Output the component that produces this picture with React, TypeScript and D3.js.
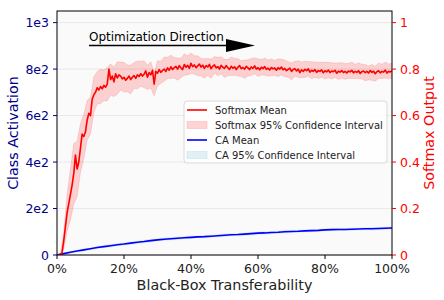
import { useRef, useEffect } from "react";
import * as d3 from "d3";

// softmax mean (class activation units), every 0.5% of transferability
const softmaxMean: number[] = [
    0, 0, 0, 10, 60, 120, 180, 220, 260, 300, 350, 430, 370, 400, 460, 520, 510, 530, 580, 610,
    600, 670, 690, 700, 720, 710, 725, 715, 730, 722, 735, 800, 755, 770, 745, 780, 762, 775, 770, 758,
    765, 752, 760, 770, 755, 765, 772, 760, 775, 768, 780, 770, 778, 792, 765, 785, 775, 795, 735, 790,
    782, 798, 786, 794, 800, 790, 805, 795, 810, 798, 806, 812, 800, 815, 805, 798, 820, 808, 816, 803,
    825, 810, 818, 806, 814, 822, 808, 817, 803, 815, 809, 820, 802, 812, 818, 805, 811, 800, 816, 808,
    803, 815, 806, 799, 812, 804, 810, 798, 808, 815, 802, 807, 800, 812, 805, 798, 809, 803, 814, 800,
    806, 797, 808, 802, 811, 799, 804, 796, 807, 801, 805, 795, 806, 800, 809, 797, 803, 793, 799, 804,
    790, 798, 802, 792, 800, 785, 797, 790, 799, 793, 801, 787, 795, 790, 798, 786, 794, 790, 797, 784,
    793, 788, 796, 785, 792, 789, 795, 782, 791, 787, 794, 785, 790, 783, 792, 788, 795, 784, 790, 786,
    793, 781, 789, 792, 785, 790, 783, 794, 786, 791, 780, 789, 793, 784, 790, 787, 796, 783, 790, 788,
    792,
];

// softmax 95% CI half-width, every 1%
const softmaxSpread: number[] = [
    3, 8, 35, 80, 110, 130, 120, 105, 95, 85,
    80, 76, 70, 74, 66, 72, 68, 63, 70, 60,
    64, 58, 62, 56, 60, 54, 58, 52, 57, 50,
    54, 48, 52, 46, 50, 44, 48, 42, 46, 41,
    44, 39, 43, 38, 42, 37, 41, 36, 40, 37,
    39, 35, 40, 36, 38, 34, 39, 35, 37, 34,
    38, 33, 37, 35, 36, 33, 38, 34, 36, 33,
    37, 32, 36, 34, 35, 32, 37, 33, 35, 32,
    36, 33, 35, 31, 36, 33, 34, 32, 35, 31,
    34, 32, 35, 30, 34, 32, 33, 31, 34, 32,
    33,
];

// CA mean, every 2%
const caMean: number[] = [
    0, 6, 12, 17, 22, 27, 32, 36, 40, 44,
    47, 51, 55, 58, 62, 65, 68, 70, 72, 74,
    76, 78, 79, 81, 83, 85, 87, 88, 90, 92,
    94, 95, 97, 98, 100, 101, 102, 104, 105, 106,
    108, 109, 110, 110, 111, 112, 113, 113, 114, 115,
    116,
];

// CA 95% CI half-width, every 2%
const caSpread: number[] = [
    1, 2, 3, 3, 4, 3, 4, 4, 5, 4,
    4, 5, 4, 5, 5, 4, 5, 4, 5, 4,
    5, 4, 5, 4, 4, 5, 4, 4, 5, 4,
    4, 5, 4, 4, 5, 4, 4, 4, 5, 4,
    4, 4, 5, 4, 4, 4, 4, 5, 4, 4,
    4,
];

const leftTicks = [0, 200, 400, 600, 800, 1000];
const leftTickLabels = ["0", "2e2", "4e2", "6e2", "8e2", "1e3"];
const rightTicks = [0, 0.2, 0.4, 0.6, 0.8, 1];
const rightTickLabels = ["0", "0.2", "0.4", "0.6", "0.8", "1"];
const xTicks = [0, 20, 40, 60, 80, 100];

const legendLabels = [
    "Softmax Mean",
    "Softmax 95% Confidence Interval",
    "CA Mean",
    "CA 95% Confidence Interval",
];

const App: React.FC = () => {
    const svgRef = useRef<SVGSVGElement | null>(null);

    useEffect(() => {
        if (!svgRef.current) return;
        document.body.style.margin = "0";

        const width = 444;
        const height = 300;
        const margin = { top: 11, right: 52, bottom: 45, left: 57 };
        const font = "DejaVu Sans, sans-serif";

        const x = d3.scaleLinear().domain([0, 100]).range([margin.left, width - margin.right]);
        const y = d3.scaleLinear().domain([0, 1050]).range([height - margin.bottom, margin.top]);
        const y2 = d3.scaleLinear().domain([0, 1.05]).range([height - margin.bottom, margin.top]);

        const svg = d3.select(svgRef.current);
        svg.selectAll("*").remove();
        svg.attr("width", width).attr("height", height).style("font-family", font);

        svg.append("rect")
            .attr("x", margin.left)
            .attr("y", margin.top)
            .attr("width", x(100) - x(0))
            .attr("height", y(0) - margin.top)
            .attr("fill", "#fafafa");

        svg.append("clipPath")
            .attr("id", "plot-clip")
            .append("rect")
            .attr("x", margin.left)
            .attr("y", margin.top)
            .attr("width", x(100) - x(0))
            .attr("height", y(0) - margin.top);

        // grid
        svg.append("g")
            .selectAll("line")
            .data(leftTicks)
            .join("line")
            .attr("x1", x(0))
            .attr("x2", x(100))
            .attr("y1", (d) => y(d))
            .attr("y2", (d) => y(d))
            .attr("stroke", "#e3e3e3")
            .attr("stroke-width", 0.8);

        const plot = svg.append("g").attr("clip-path", "url(#plot-clip)");

        const smBand = softmaxSpread.map((s, i) => ({ p: i, lo: softmaxMean[i * 2] - s, hi: softmaxMean[i * 2] + s }));
        const caBand = caSpread.map((s, i) => ({ p: i * 2, lo: caMean[i] - s, hi: caMean[i] + s }));

        const area = d3
            .area<{ p: number; lo: number; hi: number }>()
            .x((d) => x(d.p))
            .y0((d) => y(d.lo))
            .y1((d) => y(d.hi));

        plot.append("path")
            .attr("d", area(smBand))
            .attr("fill", "rgba(255,0,0,0.17)")
            .attr("stroke", "rgba(255,0,0,0.12)")
            .attr("stroke-width", 1);

        plot.append("path")
            .attr("d", area(caBand))
            .attr("fill", "rgba(173,216,230,0.35)")
            .attr("stroke", "rgba(173,216,230,0.35)");

        plot.append("path")
            .datum(caMean)
            .attr("d", d3.line<number>().x((_d, i) => x(i * 2)).y((d) => y(d)))
            .attr("fill", "none")
            .attr("stroke", "#0000ff")
            .attr("stroke-width", 1.6);

        plot.append("path")
            .datum(softmaxMean)
            .attr("d", d3.line<number>().x((_d, i) => x(i * 0.5)).y((d) => y(d)))
            .attr("fill", "none")
            .attr("stroke", "#ff0000")
            .attr("stroke-width", 1.6)
            .attr("stroke-linejoin", "round");

        // frame
        svg.append("rect")
            .attr("x", x(0))
            .attr("y", margin.top)
            .attr("width", x(100) - x(0))
            .attr("height", y(0) - margin.top)
            .attr("fill", "none")
            .attr("stroke", "#000")
            .attr("stroke-width", 1);

        // left axis
        const left = svg.append("g");
        left.selectAll("line")
            .data(leftTicks)
            .join("line")
            .attr("x1", x(0) - 4)
            .attr("x2", x(0))
            .attr("y1", (d) => y(d))
            .attr("y2", (d) => y(d))
            .attr("stroke", "darkblue");
        left.selectAll("text")
            .data(leftTicks)
            .join("text")
            .attr("x", x(0) - 8)
            .attr("y", (d) => y(d))
            .attr("dy", "0.36em")
            .attr("text-anchor", "end")
            .attr("font-size", 12.5)
            .attr("fill", "darkblue")
            .text((_d, i) => leftTickLabels[i]);

        // right axis
        const right = svg.append("g");
        right.selectAll("line")
            .data(rightTicks)
            .join("line")
            .attr("x1", x(100))
            .attr("x2", x(100) + 4)
            .attr("y1", (d) => y2(d))
            .attr("y2", (d) => y2(d))
            .attr("stroke", "red");
        right.selectAll("text")
            .data(rightTicks)
            .join("text")
            .attr("x", x(100) + 8)
            .attr("y", (d) => y2(d))
            .attr("dy", "0.36em")
            .attr("font-size", 12.5)
            .attr("fill", "red")
            .text((_d, i) => rightTickLabels[i]);

        // bottom axis
        const bottom = svg.append("g");
        bottom.selectAll("line")
            .data(xTicks)
            .join("line")
            .attr("x1", (d) => x(d))
            .attr("x2", (d) => x(d))
            .attr("y1", y(0))
            .attr("y2", y(0) + 4)
            .attr("stroke", "#000");
        bottom.selectAll("text")
            .data(xTicks)
            .join("text")
            .attr("x", (d) => x(d))
            .attr("y", y(0) + 17.5)
            .attr("text-anchor", "middle")
            .attr("font-size", 12.5)
            .attr("fill", "#222")
            .text((d) => `${d}%`);

        svg.append("text")
            .attr("x", (x(0) + x(100)) / 2)
            .attr("y", 290)
            .attr("text-anchor", "middle")
            .attr("font-size", 14.3)
            .attr("fill", "#222")
            .text("Black-Box Transferability");

        svg.append("text")
            .attr("transform", `translate(18,${(y(0) + margin.top) / 2}) rotate(-90)`)
            .attr("text-anchor", "middle")
            .attr("font-size", 14.3)
            .attr("fill", "darkblue")
            .text("Class Activation");

        svg.append("text")
            .attr("transform", `translate(434,${(y(0) + margin.top) / 2}) rotate(-90)`)
            .attr("text-anchor", "middle")
            .attr("font-size", 14.3)
            .attr("fill", "red")
            .text("Softmax Output");

        // optimization direction annotation
        svg.append("text")
            .attr("x", 89)
            .attr("y", 41)
            .attr("font-size", 12)
            .attr("fill", "#000")
            .text("Optimization Direction");
        svg.append("line")
            .attr("x1", 89)
            .attr("x2", 228)
            .attr("y1", 45.5)
            .attr("y2", 45.5)
            .attr("stroke", "#000")
            .attr("stroke-width", 1.5);
        svg.append("path")
            .attr("d", "M226,39 L255,45.5 L226,52 Z")
            .attr("fill", "#000");

        // legend
        const lg = svg.append("g").attr("transform", "translate(184,101)");
        lg.append("rect")
            .attr("width", 203)
            .attr("height", 62)
            .attr("rx", 3)
            .attr("fill", "rgba(255,255,255,0.8)")
            .attr("stroke", "#d0d0d0")
            .attr("stroke-width", 0.8);
        const rows = lg.selectAll("g").data(legendLabels).join("g")
            .attr("transform", (_d, i) => `translate(0,${9 + i * 15})`);
        rows.filter((_d, i) => i % 2 === 0)
            .append("line")
            .attr("x1", 3)
            .attr("x2", 23)
            .attr("stroke", (_d, i) => (i === 0 ? "#ff0000" : "#0000ff"))
            .attr("stroke-width", 1.6);
        rows.filter((_d, i) => i % 2 === 1)
            .append("rect")
            .attr("x", 3)
            .attr("y", -3.5)
            .attr("width", 20)
            .attr("height", 7)
            .attr("fill", (_d, i) => (i === 0 ? "rgba(255,0,0,0.17)" : "rgba(173,216,230,0.35)"))
            .attr("stroke", (_d, i) => (i === 0 ? "rgba(255,0,0,0.12)" : "rgba(173,216,230,0.35)"));
        rows.append("text")
            .attr("x", 31)
            .attr("dy", "0.35em")
            .attr("font-size", 10)
            .attr("fill", "#222")
            .text((d) => d);
    }, []);

    return <svg ref={svgRef} />;
};

export default App;
